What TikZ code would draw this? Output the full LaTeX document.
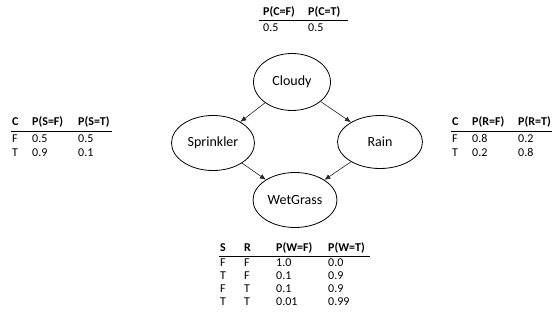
\documentclass[tikz,border=0pt]{standalone}
\usepackage{fontspec}
\setmainfont{Carlito}
\usetikzlibrary{arrows.meta,shapes.geometric}
\begin{document}
\begin{tikzpicture}[x=1pt,y=-1pt,
  bnode/.style={draw=black,line width=0.8pt,ellipse,inner sep=0pt,font=\fontsize{14}{16}\selectfont},
  arr/.style={draw=black!85,line width=0.6pt,-{Latex[length=6pt,width=5pt]}},
  th/.style={anchor=west,inner sep=0pt,font=\fontsize{12}{13}\selectfont\bfseries},
  td/.style={anchor=west,inner sep=0pt,font=\fontsize{12}{13}\selectfont},
  rule/.style={draw=black,line width=0.8pt}]
\useasboundingbox (0,0) rectangle (558,324);
% network
\node[bnode,minimum width=77pt,minimum height=57pt] (c) at (292,82) {Cloudy};
\node[bnode,minimum width=83pt,minimum height=55pt] (s) at (213,143) {Sprinkler};
\node[bnode,minimum width=85pt,minimum height=53pt] (r) at (380,142) {Rain};
\node[bnode,minimum width=84pt,minimum height=55pt] (w) at (295,200) {WetGrass};
\draw[arr] (c) -- (s);
\draw[arr] (c) -- (r);
\draw[arr] (s) -- (w);
\draw[arr] (r) -- (w);
% top table
\node[th] (t1a) at (263,12) {P(C=F)};
\node[th] (t1b) at (308,12) {P(C=T)};
\coordinate (t1l) at (259,20);
\coordinate (t1r) at (348,20);
\draw[rule] (t1l) -- (t1r);
\node[td] (t1c) at (263,27.5) {0.5};
\node[td] (t1d) at (308,27.5) {0.5};
% left table
\node[th] (t2h1) at (12,122) {C};
\node[th] (t2h2) at (32,122) {P(S=F)};
\node[th] (t2h3) at (78,122) {P(S=T)};
\coordinate (t2l) at (11,131);
\coordinate (t2r) at (112,131);
\draw[rule] (t2l) -- (t2r);
\node[td] (t2a1) at (12,138.5) {F};
\node[td] (t2a2) at (32,138.5) {0.5};
\node[td] (t2a3) at (78,138.5) {0.5};
\node[td] (t2b1) at (12,152.5) {T};
\node[td] (t2b2) at (32,152.5) {0.9};
\node[td] (t2b3) at (78,152.5) {0.1};
% right table
\node[th] (t3h1) at (452,122) {C};
\node[th] (t3h2) at (472,122) {P(R=F)};
\node[th] (t3h3) at (518,122) {P(R=T)};
\coordinate (t3l) at (451,131);
\coordinate (t3r) at (552,131);
\draw[rule] (t3l) -- (t3r);
\node[td] (t3a1) at (452,138.5) {F};
\node[td] (t3a2) at (472,138.5) {0.8};
\node[td] (t3a3) at (518,138.5) {0.2};
\node[td] (t3b1) at (452,152.5) {T};
\node[td] (t3b2) at (472,152.5) {0.2};
\node[td] (t3b3) at (518,152.5) {0.8};
% bottom table
\node[th] (t4h1) at (220,248) {S};
\node[th] (t4h2) at (244,248) {R};
\node[th] (t4h3) at (276,248) {P(W=F)};
\node[th] (t4h4) at (328,248) {P(W=T)};
\coordinate (t4l) at (219,256);
\coordinate (t4r) at (370,256);
\draw[rule] (t4l) -- (t4r);
\node[td] (t4a1) at (220,263) {F};
\node[td] (t4a2) at (244,263) {F};
\node[td] (t4a3) at (276,263) {1.0};
\node[td] (t4a4) at (328,263) {0.0};
\node[td] (t4b1) at (220,276) {T};
\node[td] (t4b2) at (244,276) {F};
\node[td] (t4b3) at (276,276) {0.1};
\node[td] (t4b4) at (328,276) {0.9};
\node[td] (t4c1) at (220,289) {F};
\node[td] (t4c2) at (244,289) {T};
\node[td] (t4c3) at (276,289) {0.1};
\node[td] (t4c4) at (328,289) {0.9};
\node[td] (t4d1) at (220,302) {T};
\node[td] (t4d2) at (244,302) {T};
\node[td] (t4d3) at (276,302) {0.01};
\node[td] (t4d4) at (328,302) {0.99};
\end{tikzpicture}
\end{document}
